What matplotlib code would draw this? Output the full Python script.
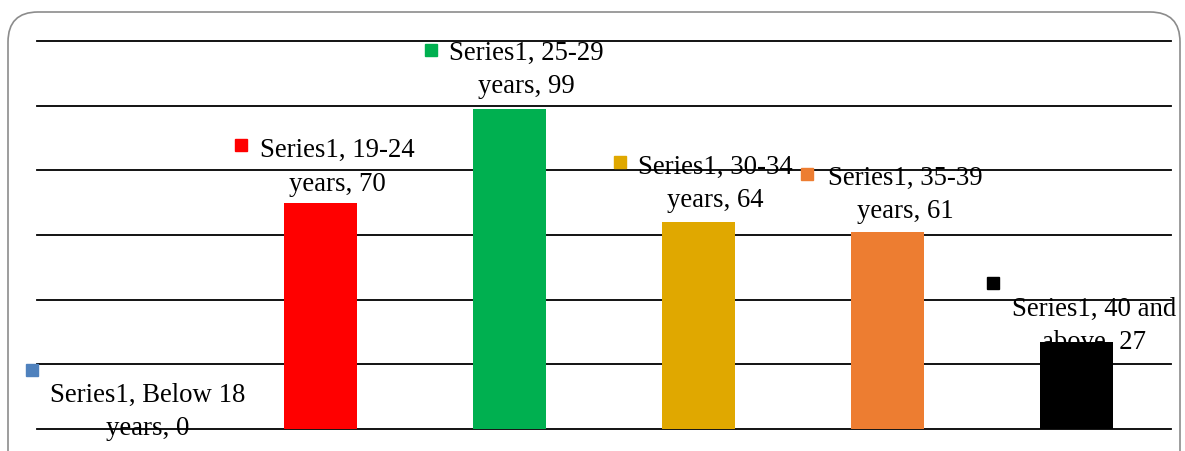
import matplotlib.pyplot as plt
from matplotlib.patches import FancyBboxPatch
from matplotlib.transforms import ScaledTranslation

# --- DATA ---
categories = ["Below 18 years", "19-24 years", "25-29 years", "30-34 years", "35-39 years", "40 and above"]
values = [0, 70, 99, 64, 61, 27]
series_name = "Series1"
colors = ["#4F81BD", "#FF0000", "#00B050", "#E0A800", "#ED7D31", "#000000"]

# label text wrapping as in the original
label_lines = [
    ("Series1, Below 18", "years, 0"),
    ("Series1, 19-24", "years, 70"),
    ("Series1, 25-29", "years, 99"),
    ("Series1, 30-34", "years, 64"),
    ("Series1, 35-39", "years, 61"),
    ("Series1, 40 and", "above, 27"),
]

# label placement (pixel offsets from bar top centre): text centre, marker
text_off = [(16, 18), (17, 36), (17, 40), (17, 39), (18, 38), (18, 17)]
mark_off = [(-100, 59), (-80, 58), (-79, 59), (-79, 60), (-81, 58), (-84, 59)]

DPI = 100
fig = plt.figure(figsize=(11.85, 4.52), dpi=DPI)
W, H = 1185, 452

# rounded outer frame (inches), bottom runs off the image
frame = FancyBboxPatch((0.08, -0.4), 11.72, 4.79,
                       boxstyle="round,pad=0,rounding_size=0.3",
                       transform=fig.dpi_scale_trans, fill=False,
                       edgecolor="#8c8c8c", linewidth=1.2)
fig.patches.append(frame)

ax = fig.add_axes([37 / W, 22 / H, (1171 - 37) / W, (430 - 42) / H])
x = list(range(len(values)))
ax.bar(x, values, width=0.39, color=colors, zorder=2)
ax.set_xlim(-0.5, len(values) - 0.5)
ax.set_ylim(0, 120)
ax.set_yticks([])
for g in range(0, 121, 20):
    ax.axhline(g, color="black", linewidth=1.3, clip_on=False, zorder=1)
ax.tick_params(length=0, labelleft=False, labelbottom=False)
ax.set_xticks([])
for s in ax.spines.values():
    s.set_visible(False)

pt = 72 / DPI
for i, v in enumerate(values):
    l1, l2 = label_lines[i]
    dx, dy = text_off[i]
    ax.annotate(l1 + "\n" + l2, (i, v), xytext=(dx * pt, dy * pt),
                textcoords="offset points", ha="center", va="center",
                multialignment="center", family="Liberation Serif",
                fontsize=19.3, linespacing=1.45, zorder=3)
    mx, my = mark_off[i]
    ax.plot([i], [v], marker="s", markersize=9, color=colors[i], linestyle="none",
            transform=ax.transData + ScaledTranslation(mx / DPI, my / DPI, fig.dpi_scale_trans),
            clip_on=False, zorder=3)

fig.savefig("out.png", dpi=DPI)
